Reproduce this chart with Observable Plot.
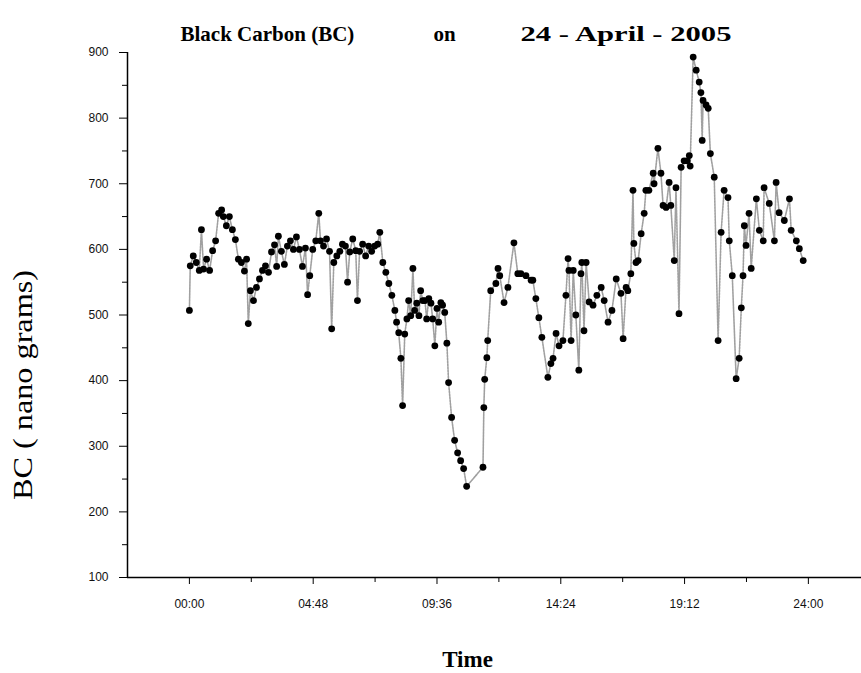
<!DOCTYPE html>
<html><head><meta charset="utf-8">
<script src="https://cdn.jsdelivr.net/npm/d3@7"></script>
<script src="https://cdn.jsdelivr.net/npm/@observablehq/plot@0.6"></script>
<style>body{margin:0;background:#fff}svg{display:block}</style>
</head><body><div id="chart"></div>
<script>
// time of each reading, minutes after midnight
const minutes = [0,2,9,16,23,28,33,40,47,54,61,68,75,79,86,93,100,107,114,121,128,133,137,142,149,156,163,170,177,184,191,198,203,207,214,221,228,235,242,249,256,263,270,275,280,287,294,301,305,312,319,326,331,336,343,350,356,363,368,373,380,387,391,396,403,410,417,424,431,438,443,450,457,464,471,478,482,487,492,496,501,506,510,515,520,524,529,534,538,543,548,552,557,562,566,571,576,580,585,589,594,599,603,610,617,624,631,638,645,683,685,687,692,694,701,713,718,722,732,741,755,764,771,783,795,799,806,813,820,834,841,846,853,860,869,876,881,883,888,893,899,906,911,913,918,923,930,939,948,958,965,974,983,993,1004,1009,1016,1020,1027,1032,1034,1039,1044,1051,1058,1062,1069,1079,1081,1090,1097,1102,1109,1116,1120,1128,1132,1139,1144,1151,1158,1163,1165,1172,1179,1186,1190,1193,1195,1202,1207,1212,1221,1230,1237,1244,1253,1256,1263,1272,1279,1284,1288,1291,1295,1302,1307,1319,1326,1335,1337,1349,1361,1365,1372,1384,1396,1400,1412,1419,1428];
// black carbon, nano grams
const bc = [507,575,590,580,568,630,570,585,568,598,613,655,660,650,636,650,630,615,585,580,567,585,487,537,522,542,555,568,575,565,596,607,574,620,597,577,605,613,600,619,600,574,602,531,560,600,613,655,613,605,616,597,479,580,590,597,608,605,550,596,616,598,522,597,608,590,605,597,605,608,626,580,565,548,530,507,489,473,434,362,471,494,522,499,571,507,518,499,537,522,522,494,525,518,494,453,510,489,519,515,504,457,397,344,309,290,278,266,239,268,359,402,435,461,537,548,571,560,519,542,610,563,563,560,553,553,525,496,466,405,426,434,472,453,461,530,586,568,461,568,500,416,563,580,476,580,520,515,530,542,522,489,507,555,533,464,542,537,563,690,609,580,583,624,655,690,690,716,700,754,716,667,664,702,667,583,694,502,725,735,735,743,727,893,873,855,839,766,827,820,815,746,710,461,626,690,679,613,560,403,434,511,560,636,606,655,571,677,629,613,694,670,613,702,656,644,677,629,613,601,583];
const xTicks = [0, 4.8, 9.6, 14.4, 19.2, 24];
const xMinor = [2.4, 7.2, 12, 16.8, 21.6];
const yTicks = [100, 200, 300, 400, 500, 600, 700, 800, 900];
const yMinor = [150, 250, 350, 450, 550, 650, 750, 850];
const titleParts = ["Black Carbon (BC)", "on", "24 - April - 2005"];
const xLabel = "Time";
const yLabel = "BC ( nano grams)";

const data = minutes.map((m, i) => ({t: m / 60, v: bc[i]}));
const fmt = h => { const tot = Math.round(h * 60); return String(Math.floor(tot / 60)).padStart(2, "0") + ":" + String(tot % 60).padStart(2, "0"); };
const serif = "Liberation Serif, Times New Roman, serif";

const chart = Plot.plot({
  width: 861, height: 673,
  marginLeft: 127, marginRight: 0, marginTop: 52, marginBottom: 96,
  style: {fontFamily: "Liberation Sans, Arial, sans-serif", fontSize: "12px", color: "#111", background: "#fff"},
  x: {domain: [-2.4, 26.06]},
  y: {domain: [100, 900]},
  marks: [
    Plot.line(data, {x: "t", y: "v", stroke: "#a0a0a0", strokeWidth: 1.6, strokeDasharray: "2,1"}),
    Plot.dot(data, {x: "t", y: "v", r: 3.4, fill: "#000", stroke: "none"}),
    Plot.ruleY([100], {stroke: "#000", strokeWidth: 1.5}),
    Plot.ruleX([-2.4], {stroke: "#000", strokeWidth: 1.5}),
    Plot.axisX(xTicks, {tickSize: 7, tickPadding: 15, tickFormat: fmt, label: null, stroke: "#000"}),
    Plot.axisX(xMinor, {tickSize: 5, tickFormat: () => "", label: null, stroke: "#000"}),
    Plot.axisY(yTicks, {tickSize: 8, tickPadding: 11, label: null, stroke: "#000"}),
    Plot.axisY(yMinor, {tickSize: 5, tickFormat: () => "", label: null, stroke: "#000"}),
    Plot.text([titleParts[0]], {text: d => d, frameAnchor: "top-left", textAnchor: "start", lineAnchor: "bottom", dx: 53, dy: -12, fontSize: 21, fontWeight: "bold", fontFamily: serif, fill: "#000"}),
    Plot.text([titleParts[1]], {text: d => d, frameAnchor: "top-left", textAnchor: "start", lineAnchor: "bottom", dx: 306, dy: -12, fontSize: 21, fontWeight: "bold", fontFamily: serif, fill: "#000"}),
    Plot.text([titleParts[2]], {text: d => d, frameAnchor: "top-left", textAnchor: "start", lineAnchor: "bottom", dx: 393, dy: -12, fontSize: 21, fontWeight: "bold", fontFamily: serif, fill: "#000"}),
    Plot.text([yLabel], {text: d => d, frameAnchor: "left", textAnchor: "middle", lineAnchor: "middle", rotate: -90, dx: -104, dy: 70, fontSize: 27, fontFamily: serif, fill: "#000"}),
    Plot.text([xLabel], {text: d => d, frameAnchor: "bottom", textAnchor: "middle", lineAnchor: "bottom", dx: -27, dy: 89, fontSize: 23, fontWeight: "bold", fontFamily: serif, fill: "#000"})
  ]
});
// stretch wide scanned-looking labels to the reference extents
d3.select(chart).selectAll("text").each(function() {
  const t = this.textContent;
  if (t === titleParts[2]) d3.select(this).attr("textLength", 211).attr("lengthAdjust", "spacingAndGlyphs");
  if (t === yLabel) d3.select(this).attr("textLength", 230).attr("lengthAdjust", "spacingAndGlyphs");
});
document.getElementById("chart").append(chart);
</script>
</body></html>
